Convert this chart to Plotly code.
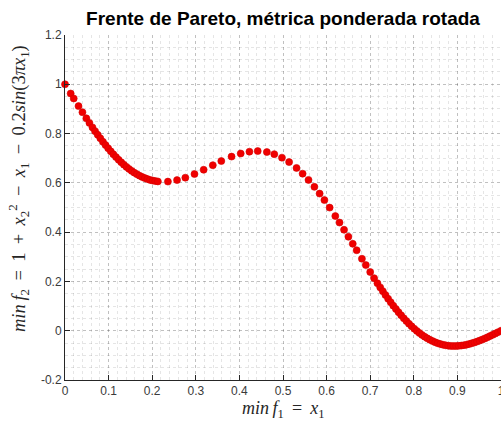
import plotly.graph_objects as go

# Pareto front points
f1 = [
    0.000, 0.013, 0.020, 0.031, 0.040, 0.049, 0.056, 0.063, 0.069, 0.075,
    0.081, 0.087, 0.093, 0.099, 0.105, 0.111, 0.117, 0.123, 0.129, 0.135,
    0.141, 0.147, 0.153, 0.159, 0.165, 0.171, 0.177, 0.183, 0.189, 0.195,
    0.201, 0.207, 0.213,
    0.236, 0.257, 0.276, 0.297, 0.318, 0.339, 0.3585, 0.382, 0.403, 0.423,
    0.442, 0.463, 0.480, 0.4976, 0.514, 0.531, 0.545, 0.5585, 0.572, 0.584,
    0.595, 0.607, 0.620, 0.6296, 0.640, 0.650, 0.660, 0.669, 0.681, 0.690,
    0.700, 0.709, 0.7166, 0.723,
    0.729, 0.735, 0.741, 0.747, 0.753, 0.759, 0.765, 0.771, 0.777, 0.783,
    0.789, 0.795, 0.801, 0.807, 0.813, 0.819, 0.825, 0.831, 0.837, 0.843,
    0.849, 0.855, 0.861, 0.867, 0.873, 0.879, 0.885, 0.891, 0.897, 0.903,
    0.909, 0.915, 0.921, 0.927, 0.933, 0.939, 0.945, 0.951, 0.957, 0.963,
    0.969, 0.975, 0.981, 0.987, 0.993, 1.000,
]
f2 = [
    1.0000, 0.9626, 0.9425, 0.9114, 0.8864, 0.8619, 0.8433, 0.8251, 0.8099, 0.7951,
    0.7807, 0.7668, 0.7533, 0.7403, 0.7278, 0.7158, 0.7045, 0.6937, 0.6835, 0.6739,
    0.6648, 0.6564, 0.6486, 0.6415, 0.6350, 0.6292, 0.6240, 0.6194, 0.6154, 0.6121,
    0.6094, 0.6072, 0.6057,
    0.6052, 0.6112, 0.6211, 0.6358, 0.6532, 0.6717, 0.6885, 0.7066, 0.7191, 0.7266,
    0.7289, 0.7250, 0.7165, 0.7023, 0.6843, 0.6605, 0.6373, 0.6119, 0.5837, 0.5565,
    0.5301, 0.4996, 0.4652, 0.4389, 0.4097, 0.3813, 0.3526, 0.3266, 0.2921, 0.2664,
    0.2382, 0.2133, 0.1927, 0.1757,
    0.1602, 0.1449, 0.1301, 0.1156, 0.1016, 0.0881, 0.0751, 0.0625, 0.0505, 0.0391,
    0.0282, 0.0179, 0.0082, -0.0009, -0.0093, -0.0172, -0.0244, -0.0310, -0.0369, -0.0422,
    -0.0468, -0.0508, -0.0542, -0.0570, -0.0592, -0.0608, -0.0618, -0.0622, -0.0621, -0.0614,
    -0.0603, -0.0586, -0.0565, -0.0540, -0.0511, -0.0478, -0.0441, -0.0401, -0.0359, -0.0313,
    -0.0266, -0.0217, -0.0166, -0.0114, -0.0062, 0.0000,
]

x_tick_vals = [0, 0.1, 0.2, 0.3, 0.4, 0.5, 0.6, 0.7, 0.8, 0.9, 1.0]
x_tick_text = ["0", "0.1", "0.2", "0.3", "0.4", "0.5", "0.6", "0.7", "0.8", "0.9", "1"]
y_tick_vals = [-0.2, 0, 0.2, 0.4, 0.6, 0.8, 1.0, 1.2]
y_tick_text = ["-0.2", "0", "0.2", "0.4", "0.6", "0.8", "1", "1.2"]

S = "\u2009"  # thin space (TeX-like operator spacing)
title_text = "<b>Frente de Pareto, métrica ponderada rotada</b>"
x_label = f"<i>min{S}f</i><sub>1</sub>{S} = {S}<i>x</i><sub>1</sub>"
y_label = (f"<i>min{S}f</i><sub>2</sub>{S} = {S}1{S} + {S}<i>x</i><sub>2</sub><sup>2</sup>{S} − {S}"
           f"<i>x</i><sub>1</sub>{S} − {S}0.2<i>sin</i>(3<i>πx</i><sub>1</sub>)")

W, H = 501, 425
L, R, T, B = 65, 0, 35, 45

fig = go.Figure()
fig.add_trace(go.Scatter(
    x=f1, y=f2, mode="markers",
    marker=dict(size=7, color="#f00000", line=dict(width=0.6, color="#d40000")),
    cliponaxis=False, showlegend=False, hoverinfo="skip",
))

axis_common = dict(
    showline=True, linecolor="#262626", linewidth=1, mirror=False,
    ticks="inside", ticklen=5, tickcolor="#262626", tickwidth=1,
    tickfont=dict(family="Liberation Sans, Arial, sans-serif", size=12, color="#3a3a3a"),
    showgrid=True, gridcolor="rgba(0,0,0,0.16)", gridwidth=1, griddash="dot",
    zeroline=False, automargin=False, ticklabeloverflow="allow",
)

fig.update_xaxes(
    range=[0, 1], tickmode="array", tickvals=x_tick_vals, ticktext=x_tick_text,
    minor=dict(tick0=0, dtick=0.02, showgrid=True, gridcolor="rgba(0,0,0,0.10)",
               griddash="dot", gridwidth=1, ticks=""),
    **axis_common,
)
fig.update_yaxes(
    range=[-0.2, 1.2], tickmode="array", tickvals=y_tick_vals, ticktext=y_tick_text,
    minor=dict(tick0=0, dtick=0.05, showgrid=True, gridcolor="rgba(0,0,0,0.10)",
               griddash="dot", gridwidth=1, ticks=""),
    **axis_common,
)

fig.update_layout(
    width=W, height=H,
    margin=dict(l=L, r=R, t=T, b=B, pad=0),
    paper_bgcolor="white", plot_bgcolor="white",
    title=dict(text=title_text, x=0.5, xref="paper", xanchor="center",
               y=1 - 18 / H, yref="container", yanchor="middle",
               font=dict(family="Liberation Sans, Arial, sans-serif", size=19, color="black")),
    annotations=[
        dict(text=x_label, xref="paper", yref="paper", x=0.5, y=-(409 - (H - B)) / (H - T - B),
             xanchor="center", yanchor="middle", showarrow=False,
             font=dict(family="Liberation Serif, Times New Roman, serif", size=18, color="#262626")),
        dict(text=y_label, xref="paper", yref="paper",
             x=-(L - 18) / (W - L - R), y=(H - B - 189) / (H - T - B),
             xanchor="center", yanchor="middle", textangle=-90, showarrow=False,
             font=dict(family="Liberation Serif, Times New Roman, serif", size=18.5, color="#262626")),
    ],
)

fig.write_html("out.html", config={"displayModeBar": False},
               post_script="document.body.style.margin='0';document.body.style.overflow='hidden';")
